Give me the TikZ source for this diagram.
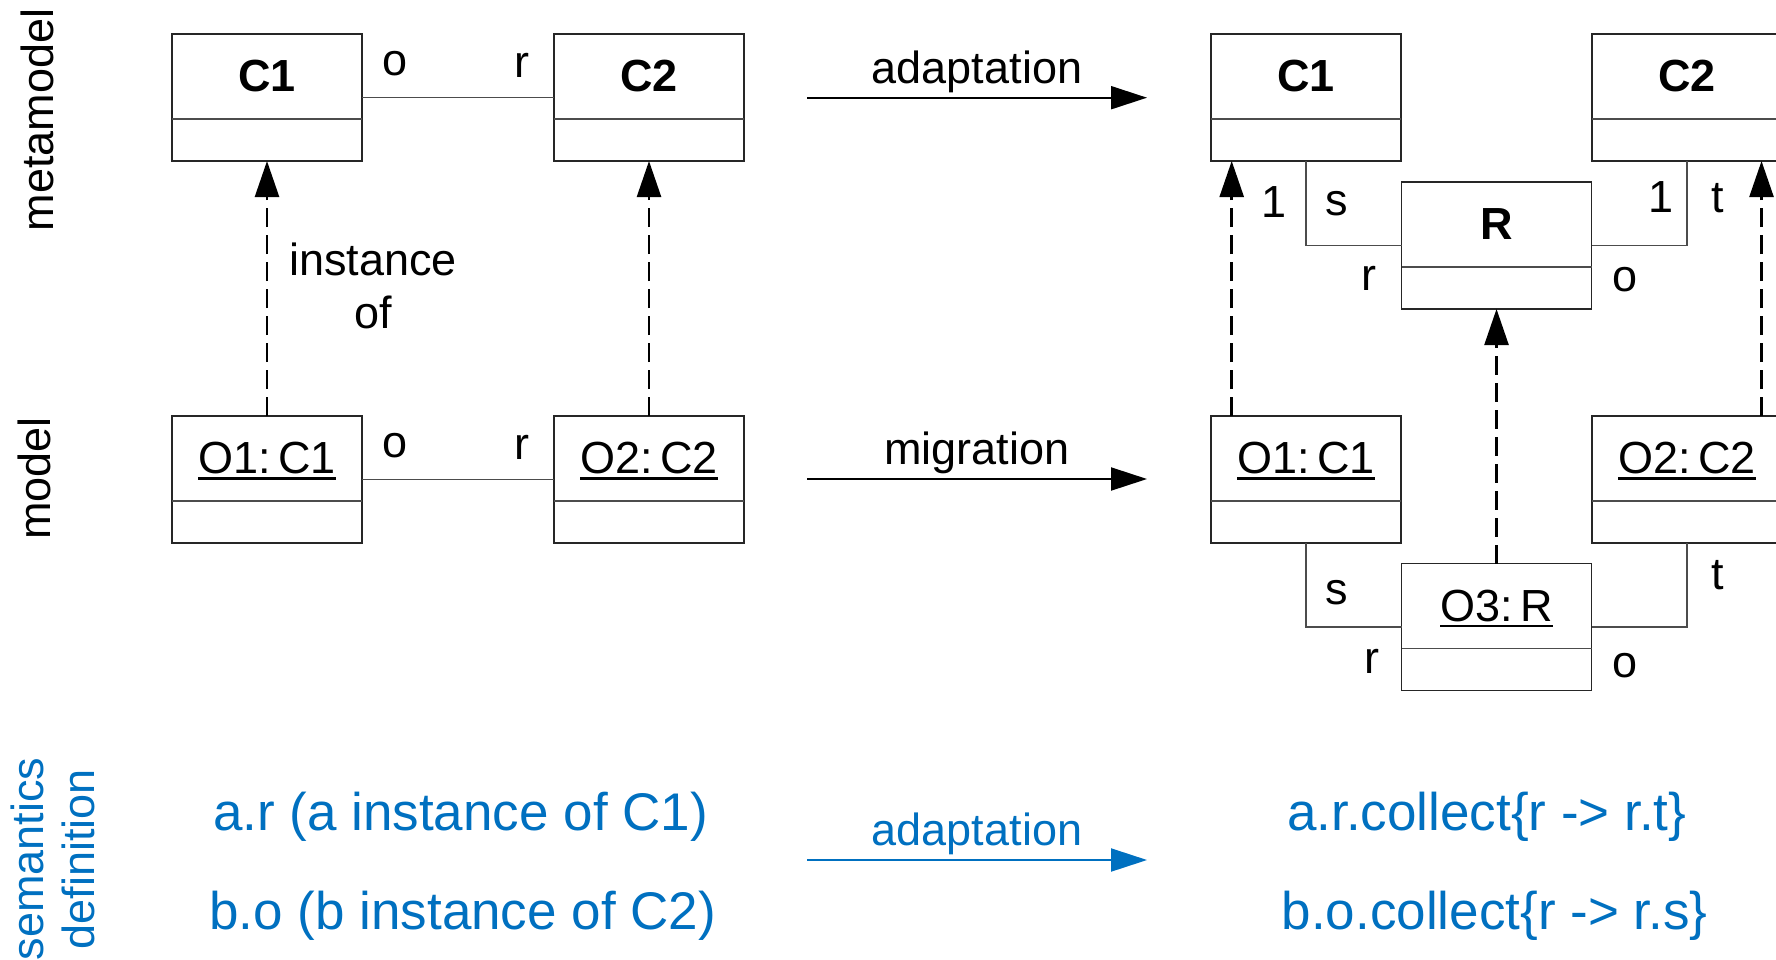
\documentclass[tikz,border=0pt]{standalone}
\usepackage{fontspec}
\setmainfont{Liberation Sans}
\usetikzlibrary{arrows.meta}
\definecolor{semblue}{RGB}{0,112,192}

% underlined object name with a heavier rule
\newcommand\undertext[1]{\setbox0\hbox{#1}\rlap{\rule[-3.2pt]{\wd0}{1.3pt}}\box0}

% UML box: name, x, y (centre), title
\newcommand\classbox[4]{%
  \node[umlbox] (#1) at (#2,#3) {};
  \draw[divider] ([yshift=-42.5pt]#1.north west) -- ([yshift=-42.5pt]#1.north east);
  \node[boxtitle] (#1-t) at ([yshift=-28.75pt]#1.north) {#4};
}

\begin{document}
\begin{tikzpicture}[x=0.5pt, y=-0.5pt,
  umlbox/.style={draw=black!85, line width=0.75pt, minimum width=95pt,
    minimum height=63.5pt, inner sep=0pt, outer sep=0pt},
  divider/.style={draw=black!70, line width=0.7pt},
  assoc/.style={draw=black!70, line width=0.7pt},
  lbl/.style={inner sep=0pt, font=\fontsize{22.5pt}{27pt}\selectfont},
  boxtitle/.style={lbl, anchor=base},
  instof/.style={line width=1.25pt, dash pattern=on 9.5pt off 4pt,
    -{Triangle[length=18pt,width=12pt]}},
  evolve/.style={line width=1pt, -{Triangle[length=18pt,width=11.5pt]}},
  semtext/.style={inner sep=0pt, anchor=base, text=semblue,
    font=\fontsize{26.5pt}{32pt}\selectfont},
]
\clip (0,0) rectangle (1776,959);

% row labels
\node[lbl, rotate=90, anchor=base] (rowmeta) at (53,120) {metamodel};
\node[lbl, rotate=90, anchor=base] (rowmodel) at (50,478.5) {model};
\node[lbl, rotate=90, anchor=base, text=semblue] (rowsem) at (43,859) {semantics};
\node[lbl, rotate=90, anchor=base, text=semblue] (rowdef) at (94,859) {definition};

% ---- original metamodel and model
\classbox{lC1}{267}{97.5}{\bfseries C1}
\classbox{lC2}{649}{97.5}{\bfseries C2}
\classbox{lO1}{267}{479.5}{\undertext{O1:\,C1}}
\classbox{lO2}{649}{479.5}{\undertext{O2:\,C2}}

\draw[assoc] (lC1) -- (lC2);
\draw[assoc] (lO1) -- (lO2);
\node[lbl] (lo1) at (395,64) {o};
\node[lbl] (lr1) at (522,65) {r};
\node[lbl] (lo2) at (395,446) {o};
\node[lbl] (lr2) at (522,447) {r};

\draw[instof] (lO1) -- (lC1);
\draw[instof] (lO2) -- (lC2);
\node[lbl, anchor=base] (inst1) at (373,275.5) {instance};
\node[lbl, anchor=base] (inst2) at (373,328.5) {of};

% ---- transformations
\coordinate (ad1s) at (807,97.7);
\coordinate (ad1e) at (1147,97.7);
\coordinate (migs) at (807,479);
\coordinate (mige) at (1147,479);
\coordinate (ad2s) at (807,860);
\coordinate (ad2e) at (1147,860);
\draw[evolve] (ad1s) -- (ad1e);
\draw[evolve] (migs) -- (mige);
\draw[evolve, semblue] (ad2s) -- (ad2e);
\node[lbl, anchor=base] (adlbl1) at (977,83) {adaptation};
\node[lbl, anchor=base] (miglbl) at (977,464.4) {migration};
\node[lbl, anchor=base, text=semblue] (adlbl2) at (977,845.7) {adaptation};

% ---- adapted metamodel and migrated model
\classbox{rC1}{1306}{97.5}{\bfseries C1}
\classbox{rC2}{1687}{97.5}{\bfseries C2}
\classbox{R}{1496.5}{245.5}{\bfseries R}
\classbox{rO1}{1306}{479.5}{\undertext{O1:\,C1}}
\classbox{rO2}{1687}{479.5}{\undertext{O2:\,C2}}
\classbox{O3}{1496.5}{627}{\undertext{O3:\,R}}

\draw[assoc] (rC1.south) |- (R.west);
\draw[assoc] (rC2.south) |- (R.east);
\draw[assoc] (rO1.south) |- (O3.west);
\draw[assoc] (rO2.south) |- (O3.east);

\node[lbl] (m1) at (1274,201.6) {1};
\node[lbl] (ms) at (1336.6,204) {s};
\node[lbl] (mr) at (1369,278) {r};
\node[lbl] (m2) at (1660.5,197) {1};
\node[lbl] (mt) at (1718,198) {t};
\node[lbl] (mo) at (1625.4,280) {o};
\node[lbl] (os) at (1336.6,593) {s};
\node[lbl] (or) at (1371.7,661) {r};
\node[lbl] (ot) at (1718,575) {t};
\node[lbl] (oo) at (1625.4,666) {o};

\draw[instof] ([xshift=10.35pt]rO1.north west) -- ([xshift=10.35pt]rO1.north west |- rC1.south);
\draw[instof] ([xshift=84.75pt]rO2.north west) -- ([xshift=84.75pt]rO2.north west |- rC2.south);
\draw[instof] (O3) -- (R);

% ---- semantics definitions
\node[semtext] (semL1) at (460.5,830) {a.r (a instance of C1)};
\node[semtext] (semL2) at (462.7,929) {b.o (b instance of C2)};
\node[semtext] (semR1) at (1486.7,830) {a.r.collect\{r -> r.t\}};
\node[semtext] (semR2) at (1494.6,929) {b.o.collect\{r -> r.s\}};
\end{tikzpicture}
\end{document}
